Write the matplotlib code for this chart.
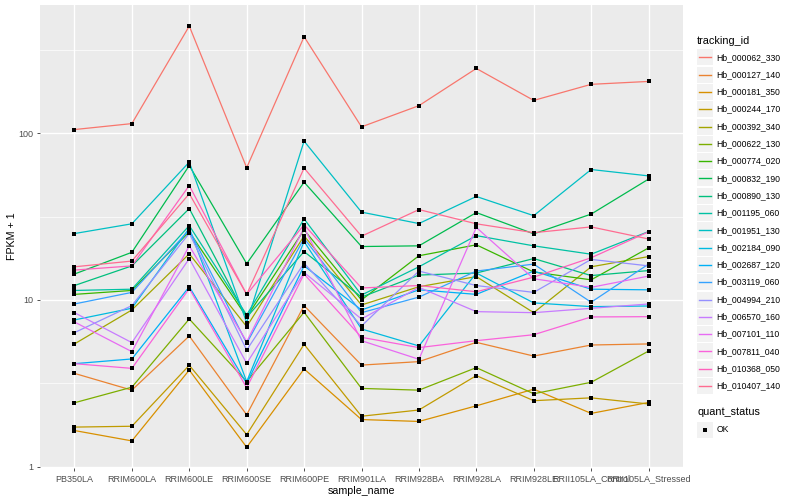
import numpy as np
import matplotlib
matplotlib.use("Agg")
import matplotlib.pyplot as plt
from matplotlib.patches import Rectangle

plt.rcParams['font.family'] = ['Liberation Sans', 'DejaVu Sans']

# categorias del eje x
samples = ['PB350LA', 'RRIM600LA', 'RRIM600LE', 'RRIM600SE', 'RRIM600PE',
           'RRIM901LA', 'RRIM928BA', 'RRIM928LA', 'RRIM928LE',
           'RRII105LA_Control', 'RRII105LA_Stressed']

tracking_ids = ['Hb_000062_330', 'Hb_000127_140', 'Hb_000181_350', 'Hb_000244_170',
                'Hb_000392_340', 'Hb_000622_130', 'Hb_000774_020', 'Hb_000832_190',
                'Hb_000890_130', 'Hb_001195_060', 'Hb_001951_130', 'Hb_002184_090',
                'Hb_002687_120', 'Hb_003119_060', 'Hb_004994_210', 'Hb_006570_160',
                'Hb_007101_110', 'Hb_007811_040', 'Hb_010368_050', 'Hb_010407_140']

# paleta hue de ggplot para 20 niveles
colors = ['#F8766D', '#EA8331', '#D89000', '#C09B00', '#A3A500', '#7CAE00',
          '#39B600', '#00BB4E', '#00BF7D', '#00C1A3', '#00BFC4', '#00BAE0',
          '#00B0F6', '#35A2FF', '#9590FF', '#C77CFF', '#E76BF3', '#FA62DB',
          '#FF62BC', '#FF6C91']

# FPKM + 1 por gen
hb_000062_330 = [105, 114, 438, 62, 378, 109, 146, 244, 157, 196, 204]
hb_000127_140 = [3.63, 2.88, 6.08, 2.05, 9.25, 4.07, 4.27, 5.57, 4.61, 5.37, 5.45]
hb_000181_350 = [1.65, 1.43, 3.80, 1.31, 3.86, 1.92, 1.87, 2.32, 2.92, 2.09, 2.43]
hb_000244_170 = [1.73, 1.75, 4.06, 1.56, 5.42, 2.01, 2.19, 3.52, 2.49, 2.59, 2.38]
hb_000392_340 = [5.45, 8.71, 18.9, 6.92, 24.2, 9.33, 12.0, 13.8, 8.39, 15.8, 18.2]
hb_000622_130 = [2.42, 3.00, 7.69, 3.24, 8.44, 2.95, 2.88, 3.93, 2.74, 3.21, 4.94]
hb_000774_020 = [10.8, 11.4, 25.6, 7.90, 26.3, 10.0, 18.4, 21.4, 14.7, 13.2, 20.5]
hb_000832_190 = [14.3, 19.3, 63.9, 16.5, 50.8, 20.9, 21.1, 33.4, 24.9, 32.7, 53.0]
hb_000890_130 = [12.2, 16.0, 35.3, 7.87, 19.5, 10.4, 14.1, 14.5, 17.7, 14.0, 15.0]
hb_001195_060 = [11.4, 11.6, 27.9, 8.13, 30.6, 10.7, 15.8, 24.3, 21.1, 18.8, 25.7]
hb_001951_130 = [25.0, 28.6, 67.0, 7.31, 89.5, 33.6, 28.7, 41.7, 32.0, 60.5, 55.4]
hb_002184_090 = [7.59, 8.92, 26.9, 3.24, 22.4, 6.70, 5.30, 14.5, 9.60, 9.12, 9.20]
hb_002687_120 = [4.15, 4.43, 12.0, 3.16, 16.0, 8.71, 11.5, 10.8, 14.9, 11.6, 11.5]
hb_003119_060 = [9.46, 11.1, 26.3, 5.50, 23.4, 8.39, 10.4, 14.9, 16.4, 9.69, 16.4]
hb_004994_210 = [6.37, 9.25, 25.1, 5.01, 16.6, 6.98, 14.9, 12.2, 11.1, 17.5, 16.0]
hb_006570_160 = [8.39, 5.55, 17.7, 4.17, 14.6, 7.69, 11.9, 8.51, 8.39, 8.91, 9.46]
hb_007101_110 = [7.38, 4.90, 21.1, 5.62, 27.1, 5.70, 4.41, 27.2, 13.4, 11.9, 13.9]
hb_007811_040 = [4.15, 3.89, 11.7, 2.98, 14.3, 5.97, 5.18, 5.70, 6.19, 7.91, 7.94]
hb_010368_050 = [15.1, 16.0, 48.5, 10.8, 28.2, 11.8, 12.2, 11.2, 13.7, 17.9, 25.6]
hb_010407_140 = [15.8, 17.1, 43.3, 10.8, 61.7, 24.1, 34.8, 28.6, 25.3, 27.4, 23.2]

series = [hb_000062_330, hb_000127_140, hb_000181_350, hb_000244_170, hb_000392_340,
          hb_000622_130, hb_000774_020, hb_000832_190, hb_000890_130, hb_001195_060,
          hb_001951_130, hb_002184_090, hb_002687_120, hb_003119_060, hb_004994_210,
          hb_006570_160, hb_007101_110, hb_007811_040, hb_010368_050, hb_010407_140]

fig = plt.figure(figsize=(8, 5), dpi=100)
ax = fig.add_axes([40 / 800, 1 - 468.3 / 500, 643 / 800, 463.3 / 500])
ax.set_facecolor('#EBEBEB')

x = np.arange(len(samples))
for vals, c in zip(series, colors):
    ax.plot(x, vals, color=c, lw=0.9, zorder=2)
for vals in series:
    ax.plot(x, vals, 's', color='black', ms=2.8, zorder=3, mew=0)

ax.set_yscale('log')
lo = np.log10(min(min(s) for s in series))
hi = np.log10(max(max(s) for s in series))
pad = (hi - lo) * 0.05
ax.set_ylim(10 ** (lo - pad), 10 ** (hi + pad))
ax.set_xlim(-0.6, len(samples) - 0.4)

ax.set_yticks([1, 10, 100])
ax.set_yticklabels(['1', '10', '100'])
ax.set_yticks([10 ** 0.5, 10 ** 1.5, 10 ** 2.5], minor=True)
ax.yaxis.set_minor_formatter(plt.NullFormatter())
ax.set_xticks(x)
ax.set_xticklabels(samples)

ax.grid(True, which='major', color='white', lw=1.0, zorder=0)
ax.grid(True, which='minor', axis='y', color='white', lw=0.5, zorder=0)
ax.set_axisbelow(True)
for s in ax.spines.values():
    s.set_visible(False)
ax.tick_params(which='major', length=2.5, width=0.6, color='#333333',
               labelsize=6.5, labelcolor='#4D4D4D', pad=2)
ax.tick_params(which='minor', length=0)

ax.set_xlabel('sample_name', fontsize=7.7, labelpad=2)
ax.set_ylabel('FPKM + 1', fontsize=7.7, labelpad=1)

# leyenda dibujada a mano en pixeles
lg = fig.add_axes([0, 0, 1, 1], zorder=5)
lg.set_xlim(0, 800)
lg.set_ylim(500, 0)
lg.axis('off')
lg.text(697, 40.7, 'tracking_id', fontsize=7.8, va='center', ha='left')
for i, (name, c) in enumerate(zip(tracking_ids, colors)):
    yc = 57.3 + 17.3 * i
    lg.add_patch(Rectangle((697.3, yc - 8), 15.4, 16, facecolor='#F2F2F2', edgecolor='none'))
    lg.plot([699, 711], [yc, yc], color=c, lw=1.0)
    lg.text(716.7, yc, name, fontsize=6.2, va='center', ha='left')

lg.text(697, 412.3, 'quant_status', fontsize=7.8, va='center', ha='left')
lg.add_patch(Rectangle((697.3, 421.7), 15.4, 16, facecolor='#F2F2F2', edgecolor='none'))
lg.plot([705], [429.5], 's', color='black', ms=2.8, mew=0)
lg.text(716.7, 429.5, 'OK', fontsize=6.2, va='center', ha='left')

fig.savefig('out.png', dpi=100)
